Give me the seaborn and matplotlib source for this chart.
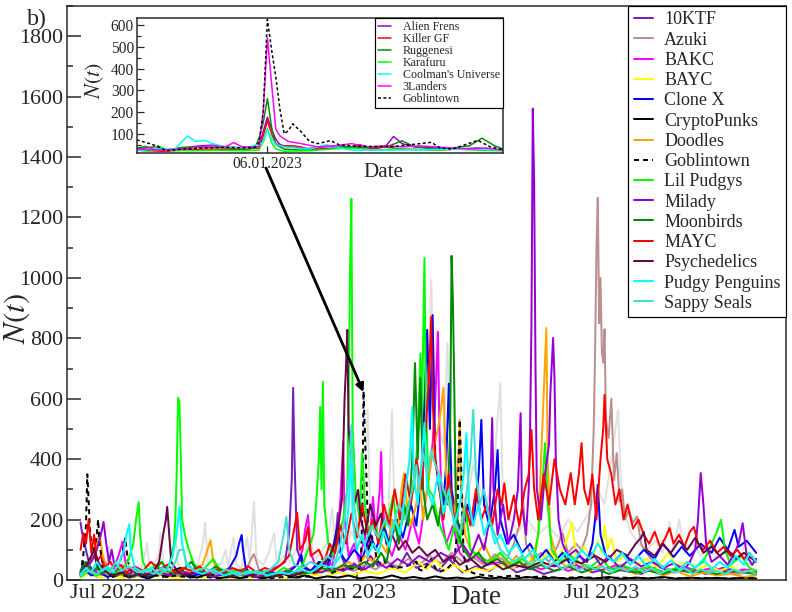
import numpy as np
import pandas as pd
import seaborn as sns
import matplotlib.pyplot as plt
import matplotlib.dates as mdates
from matplotlib.ticker import MultipleLocator, FixedLocator, NullLocator

# (day since 2022-07-01, N(t)) pairs
other = [(-20,30),(-16,60),(-12,25),(-8,45),(-4,20),(0,60),(1,110),(3,40),(7,25),(11,50),(14,100),(16,35),(20,45),(24,30),(27,70),(29,122),(31,40),(35,55),(38,90),(39,155),(41,60),(45,40),(48,80),(50,152),(52,50),(57,40),(62,70),(66,45),(70,110),(72,190),(74,60),(79,40),(84,55),(87,100),(89,45),(93,140),(95,50),(99,40),(103,142),(105,60),(108,258),(110,70),(115,50),(119,90),(123,155),(125,50),(130,80),(135,60),(140,110),(145,70),(150,170),(152,60),(157,90),(162,120),(166,238),(168,90),(172,140),(176,100),(180,160),(184,120),(188,200),(192,563),(194,200),(198,150),(203,250),(207,180),(210,563),(212,200),(216,260),(220,300),(224,420),(227,350),(231,720),(233,400),(236,500),(239,993),(241,600),(243,828),(245,500),(248,450),(251,785),(253,400),(256,350),(260,300),(265,250),(270,380),(275,300),(280,250),(285,350),(290,652),(292,250),(297,200),(303,160),(310,200),(318,150),(325,180),(333,140),(340,200),(347,160),(355,220),(362,300),(367,250),(372,400),(377,563),(379,325),(382,220),(386,160),(392,120),(398,100),(405,130),(410,90),(415,192),(418,100),(422,200),(426,90),(432,120),(438,80),(444,110),(450,70),(456,100),(462,60),(468,90),(474,50),(479,70)]

ktf = [(-20,190),(-19,160),(-17,120),(-15,80),(-13,45),(-10,30),(-6,20),(-2,35),(3,15),(8,25),(13,12),(18,22),(24,30),(30,14),(36,25),(42,18),(48,10),(55,20),(62,15),(70,28),(78,12),(86,20),(94,25),(102,10),(110,18),(118,30),(126,45),(131,60),(134,150),(136,330),(137,636),(138,400),(140,100),(144,50),(150,30),(157,60),(163,40),(168,120),(170,222),(172,90),(176,40),(182,55),(188,30),(194,80),(200,45),(207,60),(214,35),(221,90),(228,40),(236,55),(244,30),(252,70),(262,25),(272,45),(282,30),(292,60),(302,25),(312,40),(322,20),(334,35),(346,50),(358,25),(370,40),(382,30),(394,20),(406,45),(418,25),(430,35),(442,20),(454,40),(466,30),(479,25)]

azuki = [(-20,15),(-14,25),(-8,10),(-2,20),(5,15),(12,30),(20,12),(28,20),(36,15),(44,25),(52,12),(60,20),(68,30),(76,15),(84,20),(92,35),(100,25),(104,50),(106,70),(108,86),(110,60),(112,30),(118,20),(126,25),(134,15),(142,30),(150,20),(158,35),(166,25),(174,40),(182,30),(190,50),(198,35),(206,60),(214,45),(222,70),(230,50),(238,80),(246,55),(254,90),(262,60),(270,75),(278,50),(286,85),(294,60),(300,120),(304,180),(307,254),(309,120),(314,70),(320,90),(326,60),(332,110),(336,155),(340,90),(346,120),(350,100),(354,150),(357,250),(359,500),(360,750),(361,1090),(362,1265),(363,850),(364,1000),(365,760),(366,720),(367,830),(368,530),(370,470),(372,600),(374,330),(376,420),(378,260),(380,300),(382,200),(385,230),(388,190),(391,210),(394,120),(398,90),(403,60),(410,45),(418,30),(428,40),(440,25),(452,35),(465,20),(479,30)]

bakc = [(-20,20),(-15,40),(-10,25),(-5,50),(0,30),(5,45),(8,80),(10,110),(11,126),(12,90),(14,40),(18,25),(24,35),(30,20),(38,30),(46,15),(54,25),(62,20),(70,30),(78,15),(86,20),(94,25),(102,15),(110,20),(118,30),(126,20),(134,35),(140,50),(144,100),(146,170),(148,215),(150,90),(154,40),(160,60),(166,50),(170,150),(172,275),(174,457),(175,200),(178,80),(182,120),(186,60),(190,150),(193,90),(196,275),(198,150),(201,300),(202,424),(203,250),(206,120),(210,80),(215,150),(220,100),(225,200),(230,120),(236,300),(240,450),(242,600),(244,821),(245,500),(247,200),(250,120),(255,180),(260,90),(266,60),(272,80),(280,50),(290,60),(300,40),(310,55),(320,35),(330,50),(340,30),(352,45),(364,30),(376,50),(388,35),(400,40),(412,25),(424,45),(436,30),(448,40),(460,25),(470,35),(479,30)]

bayc = [(-20,10),(-12,20),(-4,8),(4,15),(12,5),(20,18),(30,8),(40,15),(50,5),(60,12),(70,8),(80,15),(90,5),(100,12),(110,8),(120,15),(130,5),(140,12),(150,20),(160,10),(170,25),(180,15),(190,30),(200,20),(210,40),(220,25),(230,60),(236,35),(242,70),(248,30),(256,50),(264,25),(272,40),(280,30),(290,50),(300,40),(310,80),(318,50),(326,100),(332,60),(338,120),(343,189),(346,80),(352,110),(358,70),(362,130),(365,90),(367,182),(369,100),(372,139),(376,60),(382,80),(390,50),(398,70),(406,40),(414,90),(420,50),(428,60),(436,35),(444,50),(452,30),(460,45),(468,25),(479,35)]

clonex = [(-20,20),(-18,60),(-16,30),(-12,15),(-6,25),(0,10),(6,20),(12,15),(20,25),(28,10),(36,20),(44,15),(52,25),(60,10),(68,20),(76,15),(84,25),(90,40),(95,80),(97,120),(99,149),(100,100),(102,40),(106,20),(112,15),(120,25),(128,20),(136,35),(140,50),(143,83),(145,40),(150,30),(156,60),(162,45),(166,100),(168,140),(170,182),(172,90),(176,60),(182,100),(188,70),(194,150),(198,100),(204,180),(208,120),(214,200),(218,140),(224,250),(228,180),(232,350),(236,828),(238,500),(240,877),(242,400),(245,300),(248,250),(250,380),(252,650),(254,300),(258,200),(262,150),(266,250),(270,180),(274,350),(276,530),(278,250),(282,180),(286,300),(288,430),(290,200),(295,120),(300,150),(306,90),(312,120),(318,70),(324,100),(330,60),(336,90),(342,50),(348,80),(354,60),(358,120),(360,200),(362,315),(364,150),(368,80),(374,60),(380,90),(388,60),(396,100),(404,70),(410,120),(418,76),(424,110),(430,80),(438,120),(446,90),(452,140),(458,100),(463,166),(466,110),(472,130),(479,90)]

punks = [(-20,15),(-16,40),(-13,70),(-10,93),(-8,50),(-5,30),(-2,60),(0,25),(4,10),(10,20),(16,8),(22,15),(30,5),(38,20),(44,10),(50,35),(54,40),(58,15),(66,8),(74,20),(82,5),(90,12),(98,6),(106,15),(114,5),(122,12),(130,20),(138,8),(146,15),(154,5),(162,12),(170,8),(178,15),(186,5),(194,10),(202,6),(210,15),(218,5),(226,10),(234,4),(242,12),(250,5),(258,8),(266,4),(274,10),(282,5),(290,8),(300,4),(310,10),(320,5),(330,8),(340,4),(350,8),(360,5),(370,10),(380,4),(390,8),(400,5),(410,10),(420,4),(430,8),(440,5),(450,7),(460,4),(470,8),(479,5)]

doodles = [(-20,20),(-15,40),(-11,80),(-8,120),(-6,159),(-4,90),(-1,40),(4,25),(10,15),(16,30),(22,12),(30,25),(38,15),(46,30),(54,20),(62,35),(70,50),(73,90),(76,132),(78,60),(82,25),(90,15),(98,25),(106,12),(114,20),(122,15),(130,25),(138,18),(146,30),(154,20),(162,40),(170,30),(178,60),(184,40),(190,80),(196,60),(202,120),(206,90),(210,200),(214,150),(217,300),(219,353),(221,250),(224,180),(228,250),(230,353),(233,200),(236,300),(240,420),(244,500),(246,560),(248,636),(250,350),(253,250),(256,200),(259,400),(260,530),(261,300),(264,150),(268,100),(272,80),(278,120),(284,60),(290,90),(296,50),(302,80),(308,40),(314,70),(318,150),(321,500),(324,834),(325,400),(327,150),(332,70),(340,40),(348,60),(356,30),(364,50),(372,25),(380,40),(390,20),(400,35),(410,15),(420,30),(430,12),(440,25),(450,15),(460,20),(470,10),(479,15)]

goblintown = [(-20,20),(-18,80),(-16,180),(-15,350),(-14,260),(-13,160),(-12,120),(-10,90),(-8,150),(-7,200),(-6,120),(-4,60),(-2,40),(0,30),(4,20),(8,40),(11,90),(13,140),(15,60),(18,25),(24,15),(32,20),(40,10),(50,15),(60,8),(70,12),(80,6),(90,10),(100,8),(110,12),(120,6),(130,10),(140,8),(150,12),(155,40),(158,72),(161,55),(163,42),(165,22),(169,30),(174,35),(179,38),(184,36),(186,38),(187,60),(188,200),(189,625),(190,485),(191,360),(192,210),(193,100),(194,115),(195,146),(197,110),(199,65),(201,55),(204,69),(206,50),(209,45),(213,42),(219,42),(223,50),(228,61),(230,35),(233,30),(239,70),(242,40),(245,27),(250,35),(256,60),(258,150),(259,350),(260,530),(261,400),(262,200),(263,80),(266,30),(272,20),(280,15),(290,10),(300,15),(310,8),(320,12),(335,6),(350,10),(365,5),(380,8),(395,5),(410,8),(425,5),(440,7),(455,5),(470,6),(479,5)]

lilpudgys = [(-20,10),(-14,30),(-8,15),(-2,40),(4,20),(10,35),(15,60),(19,120),(21,200),(23,258),(24,150),(26,60),(30,30),(36,50),(42,25),(46,60),(49,120),(50,200),(51,350),(52,603),(53,590),(54,414),(55,200),(57,150),(60,100),(64,50),(70,30),(78,70),(82,40),(90,25),(98,35),(106,20),(114,30),(122,15),(130,40),(138,25),(144,50),(148,100),(152,150),(154,250),(156,400),(157,573),(158,300),(159,656),(160,250),(163,120),(166,80),(170,150),(174,200),(177,300),(178,600),(179,1016),(180,1262),(181,500),(183,300),(186,200),(188,420),(190,250),(193,150),(197,200),(201,120),(205,180),(208,220),(211,281),(214,150),(218,200),(222,250),(226,300),(229,450),(231,750),(232,500),(234,1066),(235,600),(237,300),(240,280),(244,200),(248,150),(252,100),(256,180),(260,120),(264,250),(268,100),(274,80),(282,60),(290,90),(298,50),(306,70),(314,40),(318,150),(321,300),(323,453),(325,250),(328,100),(334,60),(342,80),(348,60),(356,40),(364,70),(372,35),(380,50),(390,30),(400,45),(410,25),(420,40),(430,30),(440,60),(446,120),(450,160),(453,199),(456,100),(460,50),(468,80),(474,40),(479,30)]

milady = [(-20,30),(-12,60),(-8,100),(-5,150),(-3,192),(-1,120),(1,60),(3,100),(5,50),(10,30),(16,20),(22,40),(30,15),(38,25),(46,15),(54,30),(62,20),(70,25),(78,10),(86,20),(94,15),(102,25),(110,10),(118,20),(126,15),(134,25),(142,20),(150,30),(158,25),(166,40),(174,30),(182,50),(190,35),(198,60),(206,40),(214,70),(222,50),(230,80),(238,60),(246,90),(254,70),(262,120),(268,80),(274,150),(278,100),(282,199),(284,536),(285,300),(288,150),(292,250),(296,120),(300,200),(303,300),(305,552),(306,250),(309,150),(311,300),(312,500),(313,838),(314,1560),(315,1314),(316,700),(317,300),(320,200),(323,350),(326,450),(327,620),(329,801),(330,672),(331,400),(333,200),(336,120),(340,80),(346,100),(352,60),(358,90),(364,50),(370,80),(378,40),(386,70),(394,45),(402,60),(410,40),(418,55),(426,35),(430,60),(434,100),(436,200),(438,354),(440,250),(442,120),(446,60),(452,80),(458,50),(463,90),(466,120),(469,188),(472,80),(476,50),(479,70)]

moonbirds = [(-20,30),(-16,60),(-12,25),(-8,40),(-4,20),(0,35),(6,15),(12,25),(18,10),(24,20),(30,15),(36,40),(40,60),(44,30),(50,20),(56,35),(62,60),(66,30),(72,20),(80,45),(86,25),(94,15),(102,30),(110,20),(118,25),(126,15),(134,30),(142,20),(150,25),(158,40),(166,30),(174,50),(182,40),(190,60),(196,45),(202,90),(206,60),(212,200),(215,120),(219,250),(222,180),(225,400),(227,718),(229,400),(231,669),(233,300),(236,200),(240,250),(244,180),(248,300),(251,250),(253,500),(254,1073),(255,927),(256,640),(257,300),(259,150),(263,100),(268,70),(274,90),(280,50),(288,70),(296,40),(304,60),(312,35),(320,50),(330,30),(340,45),(350,25),(360,40),(370,20),(380,35),(390,25),(400,30),(410,20),(420,35),(430,25),(440,30),(450,20),(460,30),(470,25),(479,20)]

mayc = [(-20,100),(-18,155),(-16,120),(-14,200),(-12,90),(-10,150),(-8,60),(-5,80),(-2,40),(2,60),(6,30),(10,50),(14,25),(20,45),(26,30),(32,60),(38,35),(44,50),(50,25),(56,40),(62,30),(68,45),(74,20),(80,35),(86,25),(92,40),(98,30),(104,45),(110,25),(116,40),(122,30),(128,50),(134,80),(137,150),(140,222),(142,100),(146,130),(148,175),(150,80),(156,100),(160,60),(164,120),(168,90),(172,180),(176,120),(180,220),(184,140),(188,250),(192,150),(196,200),(200,120),(204,250),(208,180),(212,300),(216,200),(220,350),(224,250),(228,400),(232,300),(235,500),(237,650),(239,871),(240,600),(242,400),(245,300),(248,200),(252,350),(256,200),(260,150),(264,250),(268,180),(272,300),(276,200),(280,250),(284,180),(288,300),(291,250),(293,320),(296,200),(300,280),(304,180),(308,300),(311,350),(313,497),(315,300),(318,200),(322,350),(326,250),(330,400),(334,300),(338,250),(342,354),(345,250),(348,350),(350,453),(352,300),(355,250),(358,350),(361,200),(364,400),(366,500),(367,613),(369,400),(372,350),(375,250),(378,300),(381,200),(384,250),(388,170),(392,200),(396,150),(400,120),(404,160),(408,110),(412,140),(415,172),(418,120),(422,150),(426,110),(430,160),(433,176),(436,120),(440,100),(445,130),(450,90),(455,110),(460,80),(465,100),(470,70),(474,90),(479,60)]

psychedelics = [(-20,20),(-14,60),(-10,100),(-6,50),(-2,30),(4,15),(10,25),(16,10),(22,20),(28,15),(34,30),(38,60),(41,150),(43,200),(44,242),(45,180),(47,60),(52,25),(58,15),(66,30),(74,15),(82,25),(90,10),(98,20),(106,15),(114,25),(122,10),(130,20),(138,15),(146,30),(154,25),(160,50),(164,80),(168,120),(171,200),(173,265),(175,600),(176,700),(177,828),(178,500),(180,400),(182,250),(185,298),(187,200),(190,150),(194,250),(198,180),(202,220),(206,120),(210,150),(215,100),(220,130),(225,90),(230,110),(236,80),(242,100),(248,60),(254,80),(260,50),(268,70),(276,40),(284,60),(292,35),(300,50),(310,40),(320,60),(330,45),(340,70),(350,55),(360,80),(368,60),(376,100),(384,80),(390,120),(394,140),(396,159),(398,100),(404,80),(410,120),(416,90),(422,130),(428,100),(434,140),(440,90),(446,110),(452,80),(458,100),(464,70),(470,90),(479,60)]

pudgy = [(-20,20),(-16,40),(-12,25),(-8,60),(-4,30),(0,45),(4,25),(8,50),(12,100),(14,150),(16,185),(17,100),(20,40),(26,25),(32,40),(38,20),(44,35),(48,80),(51,150),(53,242),(55,120),(58,60),(64,30),(70,20),(78,35),(86,15),(94,25),(102,20),(110,30),(118,15),(126,25),(134,20),(142,35),(150,25),(158,50),(166,40),(172,80),(176,150),(178,250),(180,420),(181,200),(184,100),(188,150),(192,80),(196,120),(200,90),(204,160),(208,110),(212,200),(216,150),(220,300),(223,400),(225,573),(226,350),(229,250),(232,400),(234,520),(236,300),(240,250),(244,350),(248,220),(252,300),(256,180),(260,250),(263,350),(265,486),(267,250),(270,180),(274,250),(278,150),(282,200),(286,120),(290,150),(296,90),(302,120),(308,70),(314,100),(320,60),(326,80),(332,50),(338,90),(344,60),(350,100),(356,70),(362,120),(368,80),(374,60),(380,90),(386,50),(392,80),(398,45),(404,70),(410,40),(416,65),(422,35),(428,60),(434,40),(440,70),(446,35),(452,60),(458,40),(464,80),(470,50),(474,90),(479,60)]

sappy = [(-20,15),(-14,30),(-8,20),(-2,40),(2,25),(6,60),(10,30),(16,45),(22,25),(28,35),(34,20),(40,40),(46,30),(50,60),(53,100),(56,99),(58,50),(64,30),(72,40),(80,20),(88,35),(96,15),(104,30),(112,20),(120,35),(126,60),(130,150),(132,209),(134,100),(138,50),(144,40),(150,60),(156,45),(162,80),(168,60),(172,120),(175,200),(178,350),(180,513),(182,250),(185,150),(190,120),(195,180),(200,140),(205,200),(210,160),(215,250),(220,200),(225,300),(228,380),(230,300),(233,420),(236,350),(239,430),(242,380),(245,350),(248,300),(252,250),(256,200),(260,150),(264,250),(268,400),(270,563),(272,350),(275,250),(278,300),(282,200),(286,150),(290,100),(295,80),(300,60),(306,80),(312,50),(318,70),(324,40),(330,60),(336,35),(342,55),(348,30),(354,50),(360,35),(366,45),(372,25),(378,40),(384,30),(390,45),(396,25),(402,40),(408,20),(414,35),(420,25),(426,40),(432,20),(438,35),(444,25),(450,30),(456,20),(462,35),(468,25),(474,30),(479,20)]

# inset collections around 06.01.2023 (day 189)
alienfrens = [(158,30),(162,40),(165,28),(169,35),(173,45),(176,48),(179,40),(183,35),(187,40),(188,110),(189,177),(190,120),(191,75),(192,50),(194,40),(197,35),(201,30),(205,35),(209,38),(213,35),(217,40),(219,88),(221,55),(224,40),(229,35),(234,30),(239,35),(245,25)]
killergf = [(158,25),(164,20),(169,25),(174,30),(179,28),(184,30),(187,35),(188,90),(189,160),(190,100),(191,55),(192,45),(195,45),(197,40),(199,25),(202,40),(205,45),(208,30),(211,50),(214,30),(217,40),(221,30),(225,28),(229,25),(234,30),(239,30),(245,25)]
ruggenesi = [(158,35),(160,42),(162,30),(165,25),(169,38),(174,40),(179,35),(184,30),(186,35),(187,80),(188,150),(189,262),(190,130),(191,50),(193,30),(197,25),(201,40),(205,45),(209,40),(214,38),(218,45),(221,68),(224,40),(229,30),(233,35),(237,45),(240,80),(243,45),(245,30)]
karafuru = [(158,25),(161,20),(163,45),(165,25),(171,22),(177,25),(183,22),(187,25),(188,70),(189,125),(190,60),(191,30),(193,20),(199,22),(204,30),(209,35),(214,25),(219,30),(224,28),(229,25),(234,30),(239,25),(245,22)]
coolman = [(158,25),(163,30),(167,30),(170,90),(172,65),(174,70),(176,55),(179,40),(184,35),(188,60),(189,118),(190,80),(191,50),(193,40),(199,30),(203,50),(209,25),(219,25),(229,28),(239,30),(245,25)]
landers = [(158,30),(164,25),(169,30),(173,40),(176,45),(179,40),(181,60),(183,40),(187,40),(188,200),(189,540),(190,330),(191,120),(192,90),(194,65),(197,55),(201,40),(205,45),(209,55),(213,40),(217,45),(221,40),(225,45),(229,40),(233,35),(237,30),(241,35),(245,25)]

start = pd.Timestamp('2022-07-01')


def to_frame(pairs):
    d = pd.DataFrame(pairs, columns=['day', 'n'])
    d['date'] = start + pd.to_timedelta(d['day'], unit='D')
    return d


sns.set_style('ticks')
plt.rcParams['font.family'] = ['Liberation Serif', 'DejaVu Serif']
plt.rcParams['mathtext.fontset'] = 'stix'

fig = plt.figure(figsize=(11, 8.5), dpi=72)
ax = fig.add_axes([67/792, 1-580/612, 719/792, 574/612])

main_sets = [(None, other, '#e0e0e0', '-'),
             ('10KTF', ktf, '#7221bc', '-'),
             ('Azuki', azuki, '#bc8f8f', '-'),
             ('BAKC', bakc, '#ff00ff', '-'),
             ('BAYC', bayc, '#ffff00', '-'),
             ('Clone X', clonex, '#0000ff', '-'),
             ('CryptoPunks', punks, '#000000', '-'),
             ('Doodles', doodles, '#ffa500', '-'),
             ('Goblintown', goblintown, '#000000', '--'),
             ('Lil Pudgys', lilpudgys, '#00ff00', '-'),
             ('Milady', milady, '#9400d3', '-'),
             ('Moonbirds', moonbirds, '#008b00', '-'),
             ('MAYC', mayc, '#ff0000', '-'),
             ('Psychedelics', psychedelics, '#670748', '-'),
             ('Pudgy Penguins', pudgy, '#00ffff', '-'),
             ('Sappy Seals', sappy, '#40e0d0', '-')]

for name, pairs, col, ls in main_sets:
    d = to_frame(pairs)
    kw = dict(dashes=(2.5, 2)) if ls == '--' else {}
    sns.lineplot(data=d, x='date', y='n', ax=ax, color=col, lw=2.0,
                 label=name if name else '_nolegend_', **kw)

ax.set_xlim(start - pd.Timedelta(days=30), start + pd.Timedelta(days=501))
ax.set_ylim(0, 1900)
ax.xaxis.set_major_locator(FixedLocator(mdates.date2num(
    [pd.Timestamp('2022-07-01'), pd.Timestamp('2023-01-01'), pd.Timestamp('2023-07-01')])))
ax.xaxis.set_major_formatter(mdates.DateFormatter('%b %Y'))
ax.yaxis.set_major_locator(MultipleLocator(200))
ax.yaxis.set_minor_locator(MultipleLocator(100))
ax.tick_params(axis='both', which='major', direction='in', length=14, width=1.5,
               labelsize=22, pad=4)
ax.tick_params(axis='x', which='major', length=8)
ax.tick_params(axis='y', which='minor', direction='in', length=6, width=1.5)
for s in ax.spines.values():
    s.set_linewidth(1.5)
ax.set_xlabel('Date', fontsize=27)
ax.xaxis.set_label_coords(0.569, -0.031)
ax.xaxis.label.set_va('center')
ax.set_ylabel('$N(t)$', fontsize=31)
ax.yaxis.set_label_coords(-0.0695, 0.456)
ax.yaxis.label.set_va('center')

h, l = ax.get_legend_handles_labels()
leg = ax.legend(h, l, loc='upper right', borderaxespad=0, fontsize=18,
                frameon=True, fancybox=False, edgecolor='black', framealpha=1,
                handlelength=1.1, handletextpad=0.6, labelspacing=0.18,
                borderpad=0.3)
leg.get_frame().set_linewidth(1.2)

fig.text(27/792, 1-25/612, 'b)', fontsize=24, va='baseline')

# inset
ins = fig.add_axes([137/792, 1-153/612, 366/792, 135/612])
inset_sets = [('Alien Frens', alienfrens, '#9400d3', '-'),
              ('Killer GF', killergf, '#ff0000', '-'),
              ('Ruggenesi', ruggenesi, '#008b00', '-'),
              ('Karafuru', karafuru, '#00ff00', '-'),
              ("Coolman's Universe", coolman, '#00ffff', '-'),
              ('3Landers', landers, '#ff00ff', '-'),
              ('Goblintown', goblintown, '#000000', '--')]
for name, pairs, col, ls in inset_sets:
    d = to_frame(pairs)
    kw = dict(dashes=(2, 1.6)) if ls == '--' else {}
    sns.lineplot(data=d, x='date', y='n', ax=ins, color=col, lw=1.5,
                 label=name, **kw)

ins.set_xlim(start + pd.Timedelta(days=158), start + pd.Timedelta(days=245))
ins.set_ylim(12, 632)
ins.xaxis.set_major_locator(FixedLocator([mdates.date2num(pd.Timestamp('2023-01-06'))]))
ins.xaxis.set_major_formatter(mdates.DateFormatter('%d.%m.%Y'))
ins.xaxis.set_minor_locator(NullLocator())
ins.yaxis.set_major_locator(MultipleLocator(100))
ins.yaxis.set_minor_locator(MultipleLocator(50))
ins.tick_params(axis='both', which='major', direction='in', length=7, width=1.2,
                labelsize=15.5, pad=3)
ins.tick_params(axis='y', which='minor', direction='in', length=4, width=1.2)
for s in ins.spines.values():
    s.set_linewidth(1.5)
ins.set_xlabel('Date', fontsize=21)
ins.xaxis.set_label_coords(0.672, -0.148)
ins.xaxis.label.set_va('center')
ins.set_ylabel('$N(t)$', fontsize=22)
ins.yaxis.set_label_coords(-0.117, 0.533)
ins.yaxis.label.set_va('center')
ih, il = ins.get_legend_handles_labels()
ileg = ins.legend(ih, il, loc='upper right', borderaxespad=0, fontsize=12,
                  frameon=True, fancybox=False, edgecolor='black', framealpha=1,
                  handlelength=1.1, handletextpad=1.0, labelspacing=0.0,
                  borderpad=0.25)
ileg.get_frame().set_linewidth(1.2)

ax.annotate('', xy=(mdates.date2num(pd.Timestamp('2023-01-06')), 622),
            xycoords='data', xytext=(266/792, 1-168/612),
            textcoords='figure fraction',
            arrowprops=dict(arrowstyle='-|>', lw=2.8, color='black',
                            mutation_scale=16, shrinkA=0, shrinkB=0))

fig.savefig('out.png', dpi=72)
